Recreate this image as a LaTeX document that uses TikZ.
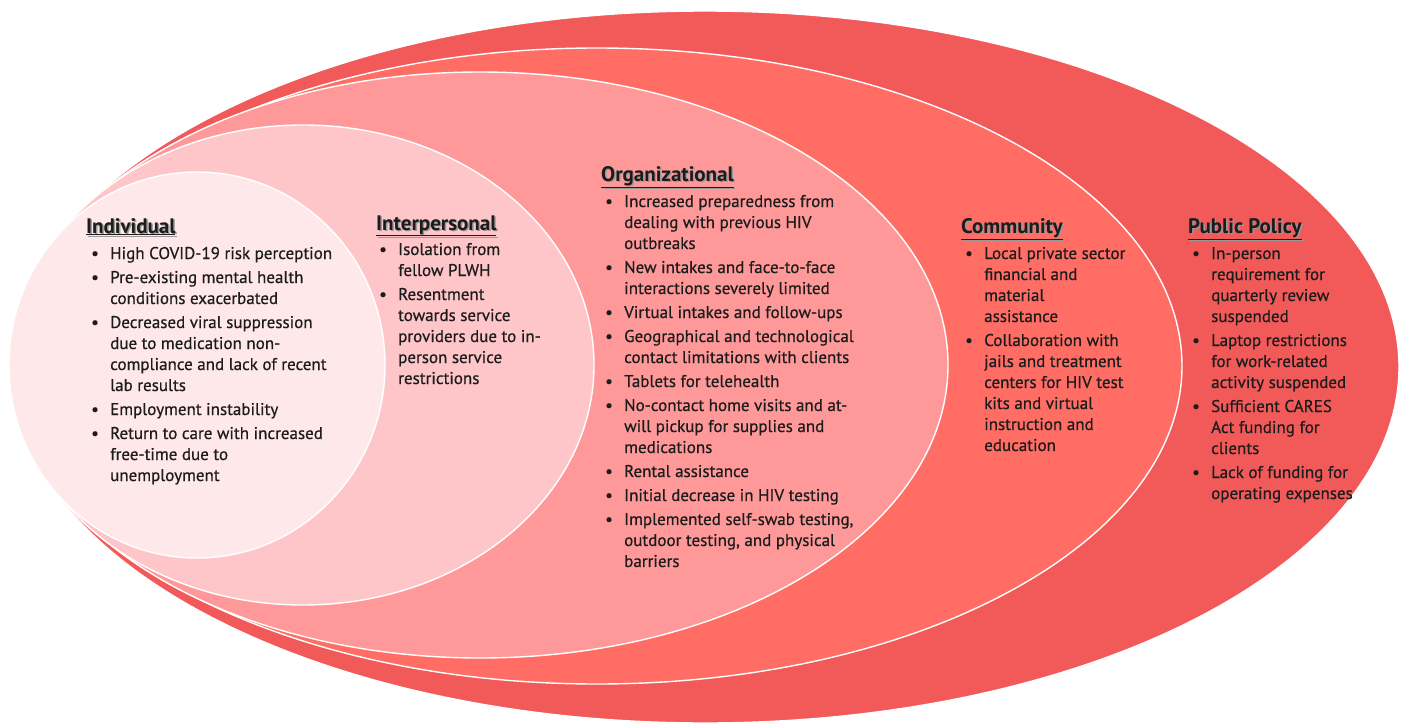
\documentclass[tikz,border=0pt]{standalone}
\usepackage{fontspec}
\setmainfont{PT Sans}
\usepackage{array}
\definecolor{cPP}{HTML}{F25A5A}
\definecolor{cCom}{HTML}{FF6D65}
\definecolor{cOrg}{HTML}{FF9999}
\definecolor{cInt}{HTML}{FFC6C9}
\definecolor{cInd}{HTML}{FFE8EA}
\definecolor{ink}{HTML}{1C1C1C}
\newcommand\hdshadow[1]{\makebox[0pt][l]{\hspace{1.5pt}\raisebox{-1.5pt}{\color{black!40}\underline{#1}}}\underline{#1}}
\newcommand\bl{\textbullet}
\tikzset{
  layer/.style={draw=white, line width=1.4pt},
  hd/.style={anchor=base west, inner sep=0pt, font=\fontsize{21}{24}\selectfont\bfseries, text=ink},
  lst/.style={anchor=base west, inner sep=0pt, font=\fontsize{17}{21}\selectfont\addfontfeature{FakeBold=0.6}, text=ink},
}
\begin{document}
\begin{tikzpicture}[x=1pt,y=-1pt]
\useasboundingbox (0,0) rectangle (1401,725);
% layers
\path[layer, fill=cPP]  (705,367) ellipse [x radius=694, y radius=356];
\path[layer, fill=cCom] (597,366) ellipse [x radius=585, y radius=318];
\path[layer, fill=cOrg] (480,365) ellipse [x radius=468, y radius=293];
\path[layer, fill=cInt] (303,365) ellipse [x radius=291, y radius=240];
\path[layer, fill=cInd] (197,365) ellipse [x radius=188, y radius=193];
% headings
\node[hd] (hInd) at (86,233) {\hdshadow{Individual}};
\node[hd] (hInt) at (376,230) {\hdshadow{Interpersonal}};
\node[hd] (hOrg) at (601,181) {\hdshadow{Organizational}};
\node[hd] (hCom) at (961,233) {\hdshadow{Community}};
\node[hd] (hPP) at (1188,233) {\hdshadow{Public Policy}};
% lists
\node[lst] (lInd) at (91,259) {\begin{tabular}[t]{@{}p{19pt}@{}l@{}}
\bl & High COVID-19 risk perception\\[3pt]
\bl & Pre-existing mental health\\
    & conditions exacerbated\\[3pt]
\bl & Decreased viral suppression\\
    & due to medication non-\\
    & compliance and lack of recent\\
    & lab results\\[3pt]
\bl & Employment instability\\[3pt]
\bl & Return to care with increased\\
    & free-time due to\\
    & unemployment
\end{tabular}};
\node[lst] (lInt) at (379,255) {\begin{tabular}[t]{@{}p{19pt}@{}l@{}}
\bl & Isolation from\\
    & fellow PLWH\\[3pt]
\bl & Resentment\\
    & towards service\\
    & providers due to in-\\
    & person service\\
    & restrictions
\end{tabular}};
\node[lst] (lOrg) at (605,207) {\begin{tabular}[t]{@{}p{19pt}@{}l@{}}
\bl & Increased preparedness from\\
    & dealing with previous HIV\\
    & outbreaks\\[3pt]
\bl & New intakes and face-to-face\\
    & interactions severely limited\\[3pt]
\bl & Virtual intakes and follow-ups\\[3pt]
\bl & Geographical and technological\\
    & contact limitations with clients\\[3pt]
\bl & Tablets for telehealth\\[3pt]
\bl & No-contact home visits and at-\\
    & will pickup for supplies and\\
    & medications\\[3pt]
\bl & Rental assistance\\[3pt]
\bl & Initial decrease in HIV testing\\[3pt]
\bl & Implemented self-swab testing,\\
    & outdoor testing, and physical\\
    & barriers
\end{tabular}};
\node[lst] (lCom) at (965,259) {\begin{tabular}[t]{@{}p{19pt}@{}l@{}}
\bl & Local private sector\\
    & financial and\\
    & material\\
    & assistance\\[3pt]
\bl & Collaboration with\\
    & jails and treatment\\
    & centers for HIV test\\
    & kits and virtual\\
    & instruction and\\
    & education
\end{tabular}};
\node[lst] (lPP) at (1192,259) {\begin{tabular}[t]{@{}p{19pt}@{}l@{}}
\bl & In-person\\
    & requirement for\\
    & quarterly review\\
    & suspended\\[3pt]
\bl & Laptop restrictions\\
    & for work-related\\
    & activity suspended\\[3pt]
\bl & Sufficient CARES\\
    & Act funding for\\
    & clients\\[3pt]
\bl & Lack of funding for\\
    & operating expenses
\end{tabular}};
\end{tikzpicture}
\end{document}
